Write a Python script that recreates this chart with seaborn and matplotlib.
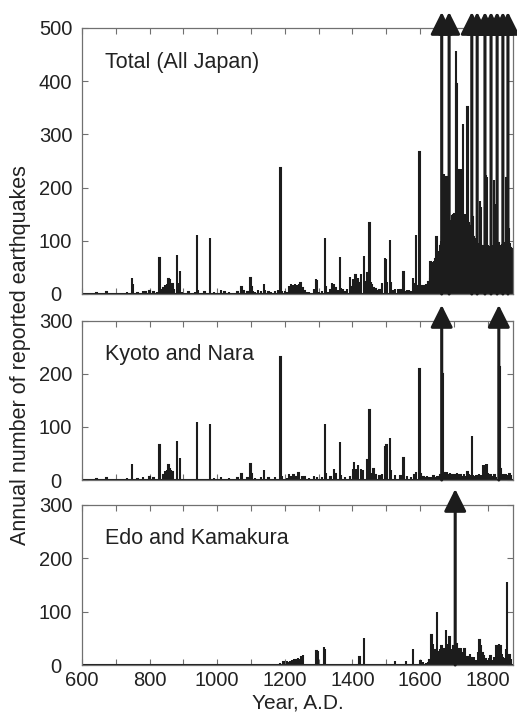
import numpy as np
import pandas as pd
import seaborn as sns
import matplotlib.pyplot as plt

years = np.arange(600, 1875)

# ─────────────────────────────────────────────
# Total (All Japan): scattered years before 1620
# ─────────────────────────────────────────────
total_early = {
    643: 2, 672: 3, 686: 2, 701: 2, 715: 2, 734: 4, 747: 30, 750: 18, 764: 2,
    780: 5, 788: 3, 800: 6, 812: 3, 822: 4, 829: 67, 835: 8, 841: 12, 846: 17,
    851: 18, 856: 28, 860: 28, 864: 20, 868: 18, 873: 10, 882: 73, 886: 20,
    890: 43, 896: 3, 905: 2, 915: 3, 925: 2, 934: 4, 940: 111, 944: 8, 952: 2,
    962: 3, 978: 106, 990: 3, 1000: 2, 1012: 7, 1022: 4, 1035: 3, 1050: 2,
    1060: 3, 1072: 13, 1078: 5, 1090: 4, 1098: 30, 1101: 14, 1106: 6, 1112: 4,
    1120: 8, 1130: 5, 1138: 19, 1142: 8, 1152: 4, 1160: 3, 1170: 5, 1180: 7,
    1187: 237, 1192: 6, 1200: 6, 1206: 4, 1213: 15, 1218: 18, 1224: 17,
    1230: 18, 1236: 16, 1241: 18, 1246: 20, 1252: 12, 1258: 6, 1265: 3,
    1272: 4, 1286: 10, 1292: 28, 1296: 27, 1302: 3, 1310: 5, 1319: 106,
    1322: 15, 1328: 4, 1335: 8, 1340: 20, 1345: 18, 1350: 12, 1357: 8,
    1363: 70, 1366: 12, 1372: 10, 1378: 6, 1384: 10, 1393: 32, 1397: 14,
    1401: 28, 1405: 26, 1409: 35, 1413: 25, 1417: 30, 1421: 20, 1426: 38,
    1435: 72, 1438: 25, 1445: 40, 1450: 134, 1454: 22, 1458: 18, 1462: 12,
    1468: 10, 1474: 6, 1480: 8, 1487: 20, 1496: 67, 1499: 66, 1503: 22,
    1511: 102, 1514: 22, 1520: 8, 1526: 9, 1534: 10, 1542: 8, 1551: 41,
    1556: 6, 1562: 8, 1568: 7, 1574: 6, 1580: 30, 1584: 18, 1588: 110,
    1592: 15, 1598: 266, 1601: 15, 1605: 12, 1610: 15, 1614: 12, 1618: 18,
}

# Total (All Japan): every year from 1620 to 1874
total_late = [
    15, 10, 12, 18, 20, 22, 15, 25, 18, 30,
    45, 60, 35, 50, 58, 60, 40, 55, 50, 52,
    55, 45, 62, 58, 50, 60, 65, 55, 58, 107,
    60, 70, 55, 65, 75, 68, 72, 80, 70, 85,
    90, 95, 100, 92, 800, 110, 105, 98, 115, 108,
    225, 120, 110, 130, 100, 125, 118, 135, 220, 112,
    128, 140, 115, 135, 120, 147, 800, 130, 125, 138,
    120, 132, 140, 125, 145, 130, 147, 150, 135, 128,
    140, 125, 150, 135, 142, 130, 145, 457, 395, 150,
    135, 145, 128, 140, 233, 132, 150, 138, 145, 220,
    130, 140, 235, 125, 145, 135, 150, 319, 140, 130,
    145, 128, 138, 150, 125, 140, 132, 145, 130, 138,
    351, 125, 140, 130, 120, 135, 128, 110, 125, 105,
    115, 98, 120, 800, 110, 144, 100, 95, 108, 90,
    100, 88, 95, 105, 85, 92, 98, 88, 90, 800,
    82, 90, 78, 85, 95, 80, 88, 82, 174, 92,
    163, 85, 90, 80, 88, 75, 92, 85, 80, 78,
    88, 82, 800, 90, 76, 85, 224, 80, 220, 88,
    75, 92, 85, 80, 90, 78, 84, 88, 82, 80,
    800, 80, 78, 92, 85, 82, 90, 88, 214, 84,
    80, 88, 170, 82, 90, 85, 92, 88, 800, 80,
    88, 82, 95, 85, 80, 90, 86, 92, 88, 82,
    90, 86, 80, 88, 92, 800, 85, 90, 82, 88,
    95, 88, 92, 85, 90, 86, 218, 92, 88, 90,
    800, 90, 86, 124, 92, 88, 95, 90, 85, 88,
    80, 85, 78, 82, 75,
]

# ─────────────────────────────────────────────
# Kyoto and Nara
# ─────────────────────────────────────────────
kyoto = {
    643: 2, 672: 3, 701: 2, 734: 4, 747: 30, 764: 2, 780: 5, 800: 6, 812: 3,
    829: 66, 841: 10, 846: 17, 851: 18, 856: 28, 860: 22, 864: 18, 868: 16,
    882: 73, 890: 41, 905: 2, 925: 2, 940: 110, 952: 2, 978: 105, 990: 3,
    1012: 5, 1035: 3, 1060: 3, 1072: 12, 1090: 4, 1098: 30, 1101: 12,
    1112: 4, 1130: 5, 1138: 18, 1152: 4, 1170: 5, 1187: 232, 1192: 8,
    1206: 4, 1213: 12, 1218: 8, 1226: 10, 1232: 6, 1240: 14, 1250: 8,
    1258: 6, 1272: 4, 1286: 8, 1296: 6, 1310: 5, 1319: 106, 1322: 14,
    1335: 6, 1345: 20, 1350: 12, 1363: 71, 1366: 10, 1378: 6, 1393: 8,
    1401: 20, 1405: 34, 1411: 20, 1417: 28, 1425: 20, 1432: 18, 1445: 38,
    1450: 132, 1454: 14, 1462: 20, 1468: 10, 1480: 8, 1487: 12, 1496: 65,
    1501: 66, 1511: 79, 1514: 18, 1526: 9, 1542: 8, 1551: 41, 1562: 8,
    1574: 6, 1584: 10, 1588: 15, 1598: 209, 1601: 12, 1605: 8, 1610: 6,
    1615: 5, 1620: 8, 1625: 4, 1630: 6, 1635: 5, 1640: 8, 1645: 6, 1650: 7,
    1655: 5, 1660: 10, 1664: 800, 1666: 200, 1668: 15, 1672: 14, 1676: 12,
    1680: 15, 1684: 10, 1688: 14, 1692: 12, 1696: 10, 1700: 8, 1705: 10,
    1710: 14, 1715: 12, 1720: 10, 1725: 8, 1730: 12, 1735: 8, 1740: 15,
    1745: 12, 1750: 10, 1753: 83, 1756: 10, 1760: 8, 1765: 10, 1770: 8,
    1775: 12, 1780: 10, 1787: 29, 1790: 28, 1795: 31, 1798: 31, 1801: 14,
    1805: 10, 1810: 12, 1815: 8, 1820: 10, 1825: 6, 1833: 800, 1835: 213,
    1838: 20, 1842: 10, 1846: 12, 1850: 10, 1855: 12, 1860: 10, 1865: 12,
    1870: 10,
}

# ─────────────────────────────────────────────
# Edo and Kamakura
# ─────────────────────────────────────────────
edo = {
    1186: 3, 1192: 2, 1196: 5, 1206: 7, 1212: 6, 1216: 8, 1222: 10,
    1228: 12, 1232: 10, 1238: 14, 1244: 12, 1248: 16, 1254: 18, 1294: 27,
    1299: 26, 1316: 33, 1319: 30, 1330: 2, 1340: 2, 1366: 1, 1421: 15,
    1434: 51, 1526: 8, 1559: 8, 1580: 30, 1601: 8, 1609: 5, 1618: 3,
    1623: 5, 1628: 10, 1634: 56, 1638: 40, 1642: 22, 1646: 28, 1651: 99,
    1655: 25, 1659: 30, 1663: 35, 1667: 28, 1672: 30, 1676: 66, 1680: 40,
    1684: 32, 1687: 52, 1691: 30, 1695: 28, 1699: 35, 1704: 800, 1708: 40,
    1712: 25, 1717: 30, 1722: 32, 1726: 22, 1731: 30, 1736: 12, 1740: 15,
    1744: 10, 1748: 20, 1752: 14, 1756: 12, 1760: 15, 1766: 10, 1771: 25,
    1776: 47, 1780: 38, 1785: 22, 1789: 18, 1794: 12, 1799: 10, 1803: 14,
    1808: 16, 1813: 10, 1818: 15, 1823: 12, 1826: 35, 1830: 38, 1834: 40,
    1838: 36, 1842: 20, 1846: 15, 1850: 12, 1854: 30, 1858: 155, 1861: 20,
    1865: 18, 1869: 12,
}

panel_names = ["Total (All Japan)", "Kyoto and Nara", "Edo and Kamakura"]
y_max = [500, 300, 300]

total = pd.Series(total_early)
total = pd.concat([total, pd.Series(total_late, index=range(1620, 1620 + len(total_late)))])
series = [total, pd.Series(kyoto), pd.Series(edo)]

sns.set_style("ticks")
plt.rcParams["font.family"] = ["Liberation Sans", "DejaVu Sans"]

fig = plt.figure(figsize=(5.17, 7.16), dpi=100)
boxes = [
    [0.1586, 0.5894, 0.8337, 0.3715],
    [0.1586, 0.3296, 0.8337, 0.2221],
    [0.1586, 0.0712, 0.8337, 0.2235],
]
bar_color = "#1c1c1c"
spine_color = "#707070"
text_color = "#222222"

for name, ymax, s, box in zip(panel_names, y_max, series, boxes):
    ax = fig.add_axes(box)
    s = s.groupby(level=0).max().reindex(years, fill_value=0)
    df = pd.DataFrame({"year": years, "count": s.values})
    sns.histplot(data=df, x="year", weights="count", discrete=True,
                 color=bar_color, edgecolor=bar_color, linewidth=1.5,
                 alpha=1, ax=ax)

    # arrows for years beyond the axis
    tip = 1 + 16 / (box[3] * 716)
    for yr in df.loc[df["count"] > ymax, "year"]:
        ax.annotate("", xy=(yr, tip), xycoords=("data", "axes fraction"),
                    xytext=(yr, 0), textcoords="data",
                    arrowprops=dict(arrowstyle="-|>", mutation_scale=34,
                                    lw=2.2, color=bar_color,
                                    shrinkA=0, shrinkB=0),
                    annotation_clip=False)

    ax.set_xlim(600, 1875)
    ax.set_ylim(0, ymax)
    ax.set_yticks(range(0, ymax + 1, 100))
    ax.set_xticks(range(600, 1875, 100))
    ax.set_xticklabels([])
    ax.set_xlabel("")
    ax.set_ylabel("")
    ax.tick_params(direction="in", top=True, right=True, length=4,
                   width=0.8, color=spine_color, labelsize=14.5,
                   labelcolor=text_color)
    ax.tick_params(axis="x", pad=4)
    ax.tick_params(axis="y", pad=19)
    for lab in ax.get_yticklabels():
        lab.set_horizontalalignment("center")
    for sp in ax.spines.values():
        sp.set_color(spine_color)
        sp.set_linewidth(0.9)
    ax.text(0.053, 0.87 if ymax == 500 else 0.79, name, transform=ax.transAxes,
            fontsize=15.5, color=text_color, va="center", ha="left")

ax.set_xticklabels([str(t) if t % 200 == 0 else "" for t in range(600, 1875, 100)])
ax.set_xlabel("Year, A.D.", fontsize=15, color=text_color, labelpad=3)
fig.text(0.039, 0.504, "Annual number of reported earthquakes", rotation=90,
         fontsize=15.5, color=text_color, ha="center", va="center")

plt.savefig("out.png", dpi=100)
